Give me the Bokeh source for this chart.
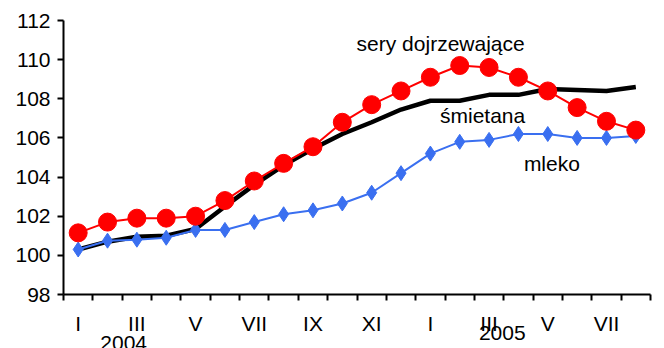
import numpy as np
from bokeh.plotting import figure
from bokeh.models import FixedTicker, Range1d, Label
from bokeh.embed import file_html
from bokeh.resources import INLINE

months = ["I", "II", "III", "IV", "V", "VI", "VII", "VIII", "IX", "X", "XI", "XII",
          "I", "II", "III", "IV", "V", "VI", "VII", "VIII"]
sery = [101.15, 101.7, 101.9, 101.9, 102.0, 102.8, 103.8, 104.7, 105.55, 106.8, 107.7, 108.4,
        109.1, 109.7, 109.6, 109.1, 108.4, 107.55, 106.85, 106.4]
smietana = [100.3, 100.7, 100.95, 101.0, 101.35, 102.5, 103.6, 104.6, 105.45, 106.2, 106.8, 107.45,
            107.9, 107.9, 108.2, 108.2, 108.5, 108.45, 108.4, 108.6]
mleko = [100.3, 100.75, 100.8, 100.9, 101.3, 101.3, 101.7, 102.1, 102.3, 102.65, 103.2, 104.2,
         105.2, 105.8, 105.9, 106.2, 106.2, 106.0, 106.0, 106.1]
years = ["2004", "2005"]
year_x = [2.05, 14.95]
year_line = [2, 1]   # how many lines below the month labels each year sits
series_labels = ["sery dojrzewające", "śmietana", "mleko"]
label_x = [12.85, 14.28, 16.64]
label_y = [110.82, 107.15, 104.69]

x = np.arange(len(months)) + 0.5
FONT = "Liberation Sans"

p = figure(width=664, height=348, output_backend="svg", toolbar_location=None,
           x_range=Range1d(0, len(months)), y_range=Range1d(98, 112),
           min_border_left=63, min_border_right=14, min_border_top=20, min_border_bottom=54,
           frame_width=587, frame_height=274)
p.outline_line_color = None
p.xgrid.visible = False
p.ygrid.visible = False
p.background_fill_color = "white"

p.line(x, smietana, line_color="black", line_width=4.5)
p.line(x, mleko, line_color="#3A6FF0", line_width=2)
p.scatter(x, mleko, marker="diamond", size=15, fill_color="#3A6FF0", line_color="#3A6FF0")
p.line(x, sery, line_color="#FF0000", line_width=2)
p.scatter(x, sery, marker="circle", size=18, fill_color="#FF0000", line_color="#FF0000")

month_ticks = [float(v) for v in x[::2]]
overrides = {float(x[i]): months[i] for i in range(0, len(months), 2)}
for yx, yl, n in zip(year_x, years, year_line):
    overrides[float(yx)] = "\n" * n + yl
p.xaxis.ticker = FixedTicker(ticks=month_ticks + [float(v) for v in year_x],
                             minor_ticks=list(range(len(months) + 1)))
p.xaxis.major_label_overrides = overrides
p.xaxis.major_label_text_line_height = 0.42
p.xaxis.major_tick_out = 0
p.xaxis.major_tick_in = 0
p.xaxis.minor_tick_out = 6
p.xaxis.minor_tick_in = 0
p.xaxis.minor_tick_line_width = 2
p.xaxis.major_label_standoff = 11

p.yaxis.ticker = FixedTicker(ticks=list(range(98, 113, 2)))
p.yaxis.major_tick_out = 6
p.yaxis.major_tick_in = 0
p.yaxis.minor_tick_out = 0
p.yaxis.minor_tick_in = 0
p.yaxis.major_tick_line_width = 2
p.yaxis.major_label_standoff = 7

for ax in (p.xaxis, p.yaxis):
    ax.axis_line_width = 2
    ax.axis_line_color = "black"
    ax.major_tick_line_color = "black"
    ax.minor_tick_line_color = "black"
    ax.major_label_text_font = FONT
    ax.major_label_text_font_size = "21px"
    ax.major_label_text_color = "black"

for t, lx, ly in zip(series_labels, label_x, label_y):
    p.add_layout(Label(x=lx, y=ly, text=t, text_font=FONT, text_font_size="21px",
                       text_align="center", text_baseline="middle", text_color="black"))

open("out.html", "w").write(file_html(p, INLINE))
